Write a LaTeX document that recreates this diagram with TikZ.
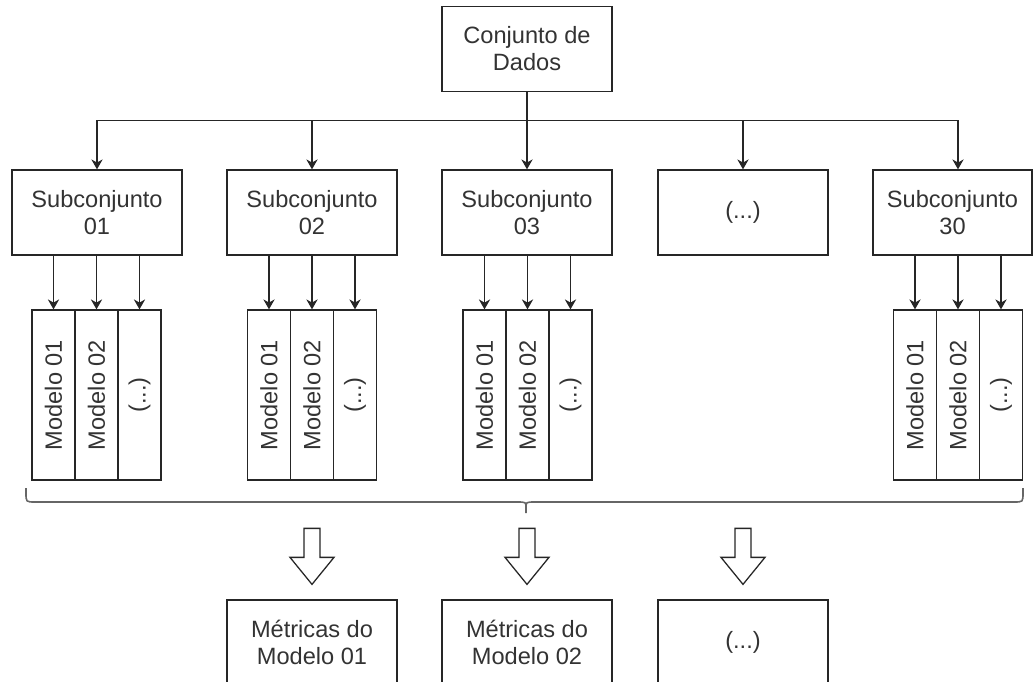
\documentclass[tikz,border=0pt]{standalone}
\usepackage{fontspec}
\setmainfont{Liberation Sans}
\usetikzlibrary{arrows.meta}

\tikzset{
	caixa/.style	= {draw, rectangle, minimum width=127.5pt, minimum height=63.75pt, align=center, inner sep=2pt, text=black!80},
	modelo/.style	= {draw, rectangle, minimum width=32.25pt, minimum height=127.5pt, inner sep=0pt, text=black!80},
	seta/.style	= {-{Stealth[length=7.5pt, width=8.5pt]}},
}

% seta grande (vazada) apontando para o topo de um no
\newcommand{\setagrande}[1]{%
	\draw[shift={(#1.north)}, fill=white] (-8,-71) -- (8,-71) -- (8,-42) -- (22,-42) -- (0,-15) -- (-22,-42) -- (-8,-42) -- cycle;}

\begin{document}
\begin{tikzpicture}[x=0.75pt, y=-0.75pt, line width=0.95pt, draw=black!85, font=\fontsize{17.7}{20.25}\selectfont]
	\useasboundingbox (0,0) rectangle (1033,682);
	\clip (0,0) rectangle (1033,682);

	\node (dados) at (527, 49)	[caixa]	{Conjunto de\\Dados};

	\node (s01) at ( 97, 212.5)	[caixa]	{Subconjunto\\01};
	\node (s02) at (312, 212.5)	[caixa]	{Subconjunto\\02};
	\node (s03) at (527, 212.5)	[caixa]	{Subconjunto\\03};
	\node (s04) at (743, 212.5)	[caixa]	{(...)};
	\node (s30) at (952.5, 212.5)	[caixa, minimum width=119.25pt]	{Subconjunto\\30};

	\node (m01a) at ( 53.5, 395)	[modelo]	{\rotatebox{90}{Modelo 01}};
	\node (m01b) at ( 96.5, 395)	[modelo]	{\rotatebox{90}{Modelo 02}};
	\node (m01c) at (139.5, 395)	[modelo]	{\rotatebox{90}{(...)}};
	\node (m02a) at (269, 395)	[modelo]	{\rotatebox{90}{Modelo 01}};
	\node (m02b) at (312, 395)	[modelo]	{\rotatebox{90}{Modelo 02}};
	\node (m02c) at (355, 395)	[modelo]	{\rotatebox{90}{(...)}};
	\node (m03a) at (484.5, 395)	[modelo]	{\rotatebox{90}{Modelo 01}};
	\node (m03b) at (527.5, 395)	[modelo]	{\rotatebox{90}{Modelo 02}};
	\node (m03c) at (570.5, 395)	[modelo]	{\rotatebox{90}{(...)}};
	\node (m30a) at (915, 395)	[modelo]	{\rotatebox{90}{Modelo 01}};
	\node (m30b) at (958, 395)	[modelo]	{\rotatebox{90}{Modelo 02}};
	\node (m30c) at (1001, 395)	[modelo]	{\rotatebox{90}{(...)}};

	\node (r01) at (312, 642.5)	[caixa]	{Métricas do\\Modelo 01};
	\node (r02) at (527, 642.5)	[caixa]	{Métricas do\\Modelo 02};
	\node (r03) at (743, 642.5)	[caixa]	{(...)};

	% conjunto -> subconjuntos
	\draw[seta] (dados.south) -- ++(0,28) -| (s01.north);
	\draw[seta] (dados.south) -- ++(0,28) -| (s02.north);
	\draw[seta] (dados.south) -- ++(0,28) -| (s03.north);
	\draw[seta] (dados.south) -- ++(0,28) -| (s04.north);
	\draw[seta] (dados.south) -- ++(0,28) -| (s30.north -| m30b);

	% subconjuntos -> modelos
	\draw[seta] (s01.south -| m01a) -- (m01a.north);
	\draw[seta] (s01.south -| m01b) -- (m01b.north);
	\draw[seta] (s01.south -| m01c) -- (m01c.north);
	\draw[seta] (s02.south -| m02a) -- (m02a.north);
	\draw[seta] (s02.south -| m02b) -- (m02b.north);
	\draw[seta] (s02.south -| m02c) -- (m02c.north);
	\draw[seta] (s03.south -| m03a) -- (m03a.north);
	\draw[seta] (s03.south -| m03b) -- (m03b.north);
	\draw[seta] (s03.south -| m03c) -- (m03c.north);
	\draw[seta] (s30.south -| m30a) -- (m30a.north);
	\draw[seta] (s30.south -| m30b) -- (m30b.north);
	\draw[seta] (s30.south -| m30c) -- (m30c.north);

	% chave
	\draw[draw=black!60, line width=1.2pt] (26,488) -- (26,493) .. controls (26,502) .. (35,502) -- (517,502) .. controls (526,502) .. (526,508) -- (526,513)
		-- (526,508) .. controls (526,502) .. (535,502) -- (1014,502) .. controls (1023,502) .. (1023,493) -- (1023,488);

	\setagrande{r01}
	\setagrande{r02}
	\setagrande{r03}
\end{tikzpicture}
\end{document}
